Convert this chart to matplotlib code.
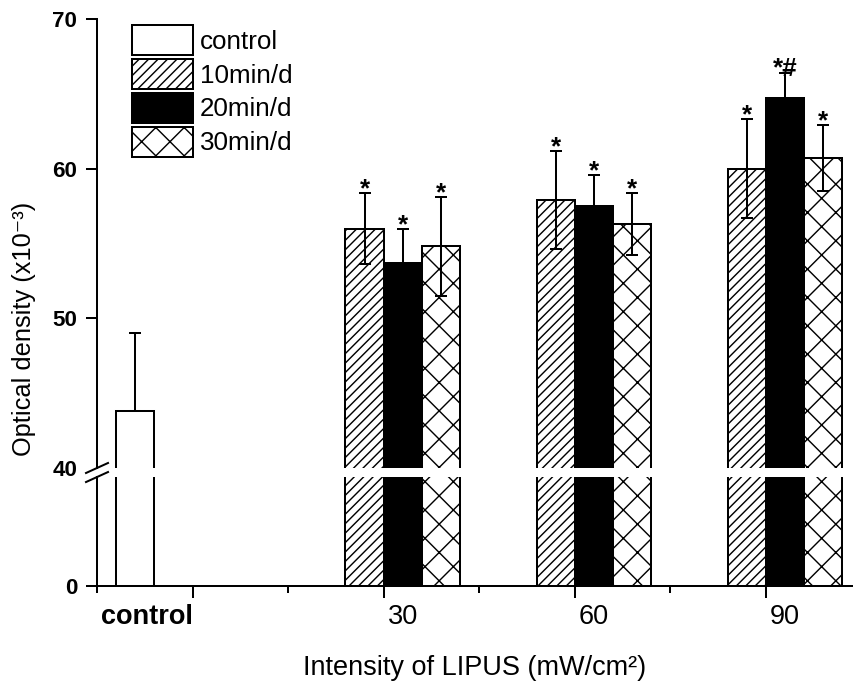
import numpy as np
import matplotlib
matplotlib.use('Agg')
import matplotlib.pyplot as plt
import matplotlib.transforms as mtransforms

plt.rcParams['font.family'] = ['Liberation Sans', 'DejaVu Sans']
plt.rcParams['hatch.linewidth'] = 1.2
plt.rcParams['hatch.color'] = 'black'

# data (optical density x10^-3)
control_label = 'control'
control_mean = 43.8
control_err = 5.2
groups = ['30', '60', '90']
group_x = [30, 60, 90]
series = ['10min/d', '20min/d', '30min/d']
means = [[56.0, 57.9, 60.0],
         [53.7, 57.5, 64.7],
         [54.8, 56.3, 60.7]]
errs = [[2.4, 3.3, 3.3],
        [2.3, 2.1, 1.7],
        [3.3, 2.1, 2.2]]
marks = [['*', '*', '*'],
         ['*', '*', '*#'],
         ['*', '*', '*']]

width = 6
control_x = -9
offsets = [-3, 3, 9]
faces = ['white', 'black', 'white']
hatches = ['///', '', 'x']
lw = 1.7
ytick_size = 19

fig = plt.figure(figsize=(854 / 85, 685 / 85), dpi=85)
ax_top = fig.add_axes([0.1136, 0.3168, 0.884, 0.6555])
ax_bot = fig.add_axes([0.1136, 0.1445, 0.884, 0.1591])

for ax in (ax_top, ax_bot):
    hc = ax.bar(control_x, control_mean, width, color='white', edgecolor='black',
                linewidth=lw, label=control_label)
    handles = [hc]
    for i in range(len(series)):
        xs = np.array(group_x) + offsets[i]
        b = ax.bar(xs, means[i], width, color=faces[i], edgecolor='black',
                   hatch=hatches[i], linewidth=lw, label=series[i])
        handles.append(b)
    ax.set_xlim(-15, 103.5)
    for s in ['top', 'right']:
        ax.spines[s].set_visible(False)
    for s in ['left', 'bottom']:
        ax.spines[s].set_linewidth(lw)
    ax.tick_params(axis='y', direction='out', length=9.3, width=lw, pad=7.6)

# upper part: error bars and significance marks
ax_top.set_ylim(40, 70)
ax_top.spines['bottom'].set_visible(False)
ax_top.tick_params(axis='x', which='both', bottom=False, labelbottom=False)
ax_top.set_yticks([40, 50, 60, 70])
ax_top.set_yticklabels(['40', '50', '60', '70'], fontweight='bold', fontsize=ytick_size)
ax_top.yaxis.get_major_ticks()[0].tick1line.set_visible(False)

ax_top.errorbar([control_x], [control_mean], yerr=[[0], [control_err]], fmt='none',
                ecolor='black', elinewidth=lw, capsize=5.5, capthick=lw, zorder=3)
for i in range(len(series)):
    xs = np.array(group_x) + offsets[i]
    ax_top.errorbar(xs, means[i], yerr=errs[i], fmt='none', ecolor='black',
                    elinewidth=lw, capsize=5.5, capthick=lw, zorder=3)
    for x, m, e, mk in zip(xs, means[i], errs[i], marks[i]):
        ax_top.annotate(mk, (x, m + e), xytext=(0, -3), textcoords='offset points',
                        ha='center', va='baseline', fontsize=22, fontweight='bold')

# lower part
ax_bot.set_ylim(0, 40)
ax_bot.set_yticks([0])
ax_bot.set_yticklabels(['0'], fontweight='bold', fontsize=ytick_size)
ax_bot.set_xticks([0] + group_x, [''] * 4)
ax_bot.set_xticks([-15, 15, 45, 75], minor=True)
ax_bot.tick_params(axis='x', which='major', direction='out', length=10, width=lw)
ax_bot.tick_params(axis='x', which='minor', direction='out', length=6, width=lw)

trans = mtransforms.blended_transform_factory(ax_bot.transData, ax_bot.transAxes)
ax_bot.text(0, -0.349, control_label, transform=trans, ha='right', va='baseline',
            fontsize=23, fontweight='bold')
for g, lab in zip(group_x, groups):
    ax_bot.text(g + offsets[1], -0.349, lab, transform=trans, ha='center',
                va='baseline', fontsize=23)

# break marks on the y axis
dx = 11 / 755
ax_top.plot([-dx, dx], [-5 / 449, 5 / 449], transform=ax_top.transAxes,
            color='black', lw=lw, clip_on=False)
ax_bot.plot([-dx, dx], [1 - 5 / 109, 1 + 5 / 109], transform=ax_bot.transAxes,
            color='black', lw=lw, clip_on=False)

fig.text(0.556, 0.0146, 'Intensity of LIPUS (mW/cm²)', ha='center', va='baseline',
         fontsize=23)
fig.text(0.028, 0.52, 'Optical density (x10⁻³)', rotation=90, ha='center',
         va='center', fontsize=21.5)

ax_top.legend(handles=handles, labels=[control_label] + series, loc='upper left',
              bbox_to_anchor=(132 / 854, 1 - 25 / 685), bbox_transform=fig.transFigure,
              frameon=False, borderpad=0, borderaxespad=0, handlelength=2.35,
              handleheight=1.4, labelspacing=0.15, handletextpad=0.25, fontsize=22)

fig.savefig('out.png', dpi=85)
